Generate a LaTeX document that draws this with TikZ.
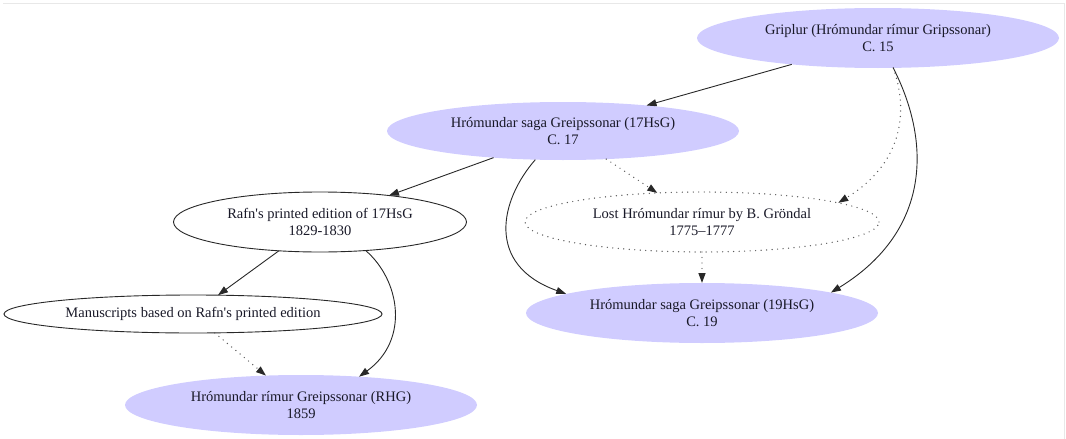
\documentclass[tikz,border=0pt]{standalone}
\usepackage{fontspec}
\setmainfont{Liberation Serif}[Ligatures=TeXOff]
\usetikzlibrary{shapes.geometric,arrows.meta}
\definecolor{lav}{RGB}{208,204,255}
\definecolor{edgec}{RGB}{40,40,40}
\definecolor{dotc}{RGB}{90,90,90}
\definecolor{framec}{RGB}{232,232,232}
\definecolor{txt}{RGB}{25,25,40}
\begin{document}
\begin{tikzpicture}[x=1pt,y=-1pt,
  every node/.style={font=\fontsize{14.5}{17}\selectfont, align=center, text=txt},
  ell/.style={ellipse, inner sep=0pt, outer sep=0pt},
  filled/.style={ell, fill=lav, draw=none},
  plain/.style={ell, draw=edgec, line width=0.9pt},
  dotbox/.style={ell, draw=dotc, line width=1.4pt, line cap=round, dash pattern=on 0pt off 5.5pt},
  edge/.style={draw=edgec, line width=0.9pt, -{Triangle[length=10pt,width=7pt,color=edgec]}},
  dotedge/.style={edge, draw=dotc, line width=1.4pt, line cap=round, dash pattern=on 0pt off 5.5pt},
]
\useasboundingbox (0,0) rectangle (1066,439);
\draw[framec, line width=1.5pt] (3,3.5) -- (1064.5,3.5) -- (1064.5,439);

\node[filled, minimum width=362pt, minimum height=60pt] (grip) at (878,38) {Griplur (Hrómundar rímur Gripssonar)\\C. 15};
\node[filled, minimum width=352pt, minimum height=58pt] (hs17) at (563,131) {Hrómundar saga Greipssonar (17HsG)\\C. 17};
\node[plain, minimum width=293pt, minimum height=60pt] (rafn) at (320,222) {Rafn's printed edition of 17HsG\\1829-1830};
\node[dotbox, minimum width=354pt, minimum height=60pt] (lost) at (702,222) {Lost Hrómundar rímur by B. Gröndal\\1775–1777};
\node[plain, minimum width=378pt, minimum height=38pt] (manu) at (193,314) {Manuscripts based on Rafn's printed edition};
\node[filled, minimum width=352pt, minimum height=60pt] (hs19) at (702,313) {Hrómundar saga Greipssonar (19HsG)\\C. 19};
\node[filled, minimum width=352pt, minimum height=60pt] (rhg) at (301,405) {Hrómundar rímur Greipssonar (RHG)\\1859};

\draw[edge] (grip.197) -- (hs17.17);
\draw[dotedge] (grip.297) .. controls (910,115) and (900,165) .. (lost.8);
\draw[edge] (grip.297) .. controls (935,150) and (925,235) .. (hs19.9);
\draw[edge] (hs17.201) -- (rafn.21);
\draw[dotedge] (hs17.327) -- (lost.147);
\draw[edge] (hs17.226) .. controls (500,200) and (485,265) .. (hs19.172);
\draw[dotedge] (lost.270) -- (hs19.90);
\draw[edge] (rafn.215) -- (manu.37);
\draw[edge] (rafn.328) .. controls (400,280) and (410,340) .. (rhg.26);
\draw[dotedge] (manu.319) -- (rhg.140);
\end{tikzpicture}
\end{document}
